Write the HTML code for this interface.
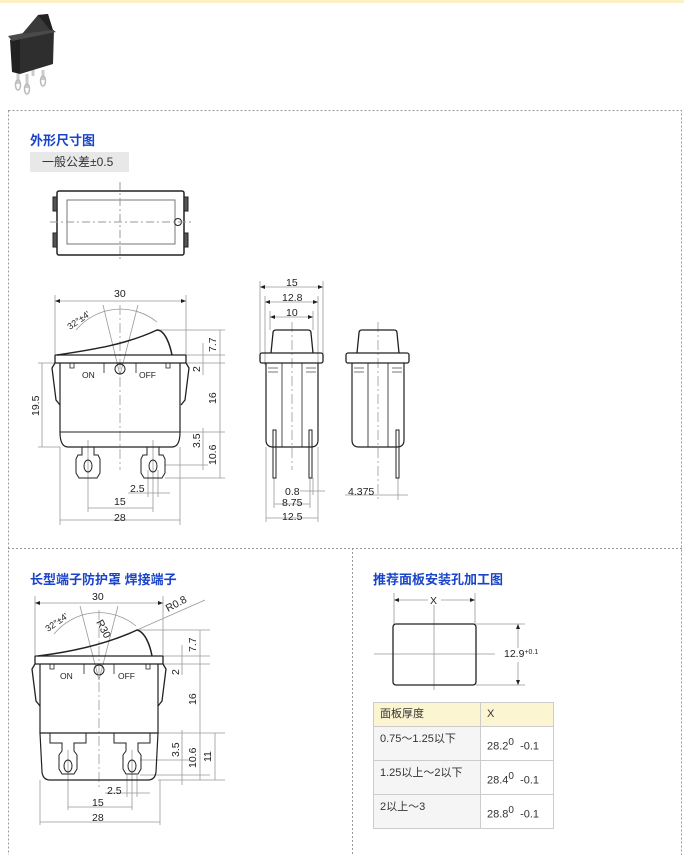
<!DOCTYPE html>
<html><head><meta charset="utf-8"><style>
html,body{margin:0;padding:0;background:#fff;}
body{width:684px;height:855px;position:relative;overflow:hidden;font-family:"Liberation Sans","Noto Sans CJK SC",sans-serif;}
svg{position:absolute;left:0;top:0;}
.h{position:absolute;color:#1a44c8;font-weight:bold;font-size:13px;font-family:"Liberation Sans","Noto Sans CJK SC",sans-serif;}
table{position:absolute;left:373px;top:702px;border-collapse:collapse;font-size:11px;color:#333;}
td{border:1px solid #ccc;padding:0 6px;vertical-align:top;}
</style></head><body>
<div style="position:absolute;left:0;top:0;width:684px;height:3px;background:#fbf1c4"></div>
<div class="h" style="left:30px;top:130px">外形尺寸图</div>
<div style="position:absolute;left:30px;top:152px;width:99px;height:20px;background:#e8e8e8;font-size:12px;color:#333;line-height:20px;text-indent:12px">一般公差±0.5</div>
<div class="h" style="left:30px;top:569px">长型端子防护罩 焊接端子</div>
<div class="h" style="left:373px;top:569px">推荐面板安装孔加工图</div>
<table>
<tr style="height:24px;background:#fbf5d2"><td style="width:94px;line-height:22px">面板厚度</td><td style="width:60px;line-height:22px">X</td></tr>
<tr style="height:34px"><td style="background:#f5f5f5;padding-top:3px">0.75～1.25以下</td><td style="padding-top:10px">28.2<sup style="font-size:10px">0</sup>&nbsp; -0.1</td></tr>
<tr style="height:34px"><td style="background:#f5f5f5;padding-top:3px">1.25以上～2以下</td><td style="padding-top:10px">28.4<sup style="font-size:10px">0</sup>&nbsp; -0.1</td></tr>
<tr style="height:34px"><td style="background:#f5f5f5;padding-top:3px">2以上～3</td><td style="padding-top:10px">28.8<sup style="font-size:10px">0</sup>&nbsp; -0.1</td></tr>
</table>
<svg width="684" height="855" viewBox="0 0 684 855" font-family="Liberation Sans, sans-serif" font-size="10.5">
<!-- photo -->
<g>
<path d="M18,72 v12 M27,74 v14 M33,70 v6 M43,70 v10" stroke="#ccc" stroke-width="3"/>
<ellipse cx="18" cy="85" rx="2.5" ry="5" fill="none" stroke="#bbb" stroke-width="1.5"/>
<ellipse cx="27" cy="89" rx="2.5" ry="5" fill="none" stroke="#bbb" stroke-width="1.5"/>
<ellipse cx="43" cy="81" rx="2.5" ry="5" fill="none" stroke="#bbb" stroke-width="1.5"/>
<polygon points="10,40 20,36 20,74 12,72" fill="#222"/>
<polygon points="20,36 54,30 53,64 20,74" fill="#2e2e2e"/>
<polygon points="8,36 50,28 56,32 12,41" fill="#4a4a4a"/>
<polygon points="22,34 38,15 48,14 52,30" fill="#3a3a3a"/>
<polygon points="38,15 48,14 53,30 50,30" fill="#222"/>
</g>
<!-- borders -->
<g stroke="#999" stroke-dasharray="2,2" fill="none" stroke-width="1">
<rect x="8.5" y="110.5" width="673" height="750"/>
<line x1="8" y1="548.5" x2="682" y2="548.5"/>
<line x1="352.5" y1="548" x2="352.5" y2="855"/>
</g>
<g fill="none" stroke="#222" stroke-width="1">
<!-- top view -->
<rect x="57" y="191" width="127" height="64" rx="2" stroke-width="1.5"/>
<rect x="67" y="200" width="108" height="44" stroke="#777"/>
<rect x="53" y="197" width="4" height="14" fill="#555"/><rect x="53" y="233" width="4" height="14" fill="#555"/>
<rect x="184" y="197" width="4" height="14" fill="#555"/><rect x="184" y="233" width="4" height="14" fill="#555"/>
<circle cx="178" cy="222" r="3.5"/>
<line x1="50" y1="222" x2="194" y2="222" stroke="#999" stroke-dasharray="8,3,2,3"/>
<line x1="120" y1="182" x2="120" y2="262" stroke="#999" stroke-dasharray="8,3,2,3"/>

<!-- front view 1 -->
<g stroke="#999" stroke-width="0.8">
<line x1="55" y1="295" x2="55" y2="355"/><line x1="186" y1="295" x2="186" y2="355"/>
<line x1="55" y1="301" x2="186" y2="301"/>
<line x1="120" y1="375" x2="103" y2="305"/><line x1="120" y1="375" x2="138" y2="305"/>
<path d="M76,330 A58,58 0 0 1 157,322"/>
<line x1="120" y1="305" x2="120" y2="470" stroke-dasharray="10,3,2,3"/>
<line x1="157" y1="330" x2="225" y2="330"/><line x1="186" y1="355" x2="225" y2="355"/>
<line x1="180" y1="363" x2="225" y2="363"/><line x1="180" y1="432" x2="225" y2="432"/>
<line x1="165" y1="465" x2="208" y2="465"/><line x1="165" y1="478" x2="225" y2="478"/>
<line x1="220" y1="330" x2="220" y2="478"/><line x1="203" y1="343" x2="203" y2="375"/><line x1="203" y1="428" x2="203" y2="470"/>
<line x1="42" y1="363" x2="42" y2="447"/><line x1="38" y1="363" x2="60" y2="363"/><line x1="38" y1="447" x2="60" y2="447"/>
<line x1="60" y1="447" x2="60" y2="525"/><line x1="180" y1="447" x2="180" y2="525"/>
<line x1="88" y1="440" x2="88" y2="512"/><line x1="153" y1="440" x2="153" y2="512"/>
<line x1="148" y1="470" x2="148" y2="497"/><line x1="158" y1="470" x2="158" y2="497"/>
<line x1="128" y1="493" x2="170" y2="493"/>
<line x1="88" y1="508" x2="153" y2="508"/><line x1="60" y1="520" x2="180" y2="520"/>
</g>
<rect x="55" y="355" width="131" height="8" rx="1" stroke-width="1.3"/>
<path d="M57,355 C90,350 125,345 157,330 C165,330 170,345 172,355" stroke-width="1.5"/>
<path d="M60,363 V432 Q60,447 68,447 H172 Q180,447 180,432 V363" stroke-width="1.2"/>
<line x1="60" y1="432" x2="180" y2="432"/>
<path d="M55,363 l-3,5 l4,32 l4,5 M186,363 l3,5 l-4,32 l-4,5" stroke-width="1.3"/>
<path d="M82,447 V455 H78 l-2,4 v14 l3,5 h18 l3,-5 v-14 l-2,-4 h-4 V447"/>
<path d="M147,447 V455 H143 l-2,4 v14 l3,5 h18 l3,-5 v-14 l-2,-4 h-4 V447"/>
<ellipse cx="88" cy="466" rx="4" ry="6"/><ellipse cx="153" cy="466" rx="4" ry="6"/>
<circle cx="120" cy="369" r="5"/>
<path d="M70,363 v5 h4 v-5 M104,363 v10 M136,363 v10 M166,363 v5 h4 v-5" stroke-width="0.8"/>

<!-- side view 1 -->
<g stroke="#999" stroke-width="0.8">
<line x1="260" y1="281" x2="260" y2="355"/><line x1="323" y1="281" x2="323" y2="355"/><line x1="260" y1="287" x2="323" y2="287"/>
<line x1="265" y1="296" x2="265" y2="365"/><line x1="318" y1="296" x2="318" y2="365"/><line x1="265" y1="302" x2="318" y2="302"/>
<line x1="270" y1="311" x2="270" y2="330"/><line x1="313" y1="311" x2="313" y2="330"/><line x1="270" y1="317" x2="313" y2="317"/>
<line x1="292" y1="322" x2="292" y2="470" stroke-dasharray="10,3,2,3"/>
<line x1="266" y1="447" x2="266" y2="522"/><line x1="318" y1="447" x2="318" y2="522"/><line x1="266" y1="518" x2="318" y2="518"/>
<line x1="274" y1="478" x2="274" y2="508"/><line x1="310" y1="478" x2="310" y2="508"/><line x1="274" y1="504" x2="310" y2="504"/>
<line x1="313" y1="478" x2="313" y2="495"/><line x1="300" y1="491" x2="325" y2="491"/>
</g>
<path d="M271,353 L273,333 Q273,330 276,330 H308 Q311,330 311,333 L313,353" stroke-width="1.3"/>
<rect x="260" y="353" width="63" height="10" rx="2" stroke-width="1.3"/>
<path d="M266,363 V440 Q266,447 273,447 H311 Q318,447 318,440 V363" stroke-width="1.2"/>
<rect x="282" y="363" width="20" height="84" stroke-width="0.8"/>
<path d="M268,368 h10 M268,372 h10 M306,368 h10 M306,372 h10" stroke="#777"/>
<rect x="273" y="430" width="3" height="48" stroke-width="1"/><rect x="309" y="430" width="3" height="48" stroke-width="1"/>

<!-- side view 2 -->
<g stroke="#999" stroke-width="0.8">
<line x1="378" y1="322" x2="378" y2="500" stroke-dasharray="10,3,2,3"/>
<line x1="398" y1="478" x2="398" y2="500"/><line x1="345" y1="495" x2="408" y2="495"/>
</g>
<path d="M357,353 L359,333 Q359,330 362,330 H394 Q397,330 397,333 L399,353" stroke-width="1.3"/>
<rect x="346" y="353" width="63" height="10" rx="2" stroke-width="1.3"/>
<path d="M352,363 V440 Q352,447 359,447 H397 Q404,447 404,440 V363" stroke-width="1.2"/>
<rect x="368" y="363" width="20" height="84" stroke-width="0.8"/>
<path d="M354,368 h10 M354,372 h10 M392,368 h10 M392,372 h10" stroke="#777"/>
<rect x="396" y="430" width="3" height="48" stroke-width="1"/>

<!-- front view 2 -->
<g stroke="#999" stroke-width="0.8">
<line x1="35" y1="596" x2="35" y2="656"/><line x1="163" y1="596" x2="163" y2="656"/><line x1="35" y1="603" x2="163" y2="603"/>
<line x1="99" y1="680" x2="80" y2="606"/><line x1="99" y1="680" x2="118" y2="606"/>
<path d="M54,634 A58,58 0 0 1 136,626"/>
<line x1="137" y1="630" x2="205" y2="600"/>
<line x1="99" y1="610" x2="99" y2="790" stroke-dasharray="10,3,2,3"/>
<line x1="137" y1="630" x2="210" y2="630"/><line x1="163" y1="656" x2="210" y2="656"/>
<line x1="158" y1="664" x2="210" y2="664"/><line x1="158" y1="733" x2="225" y2="733"/>
<line x1="140" y1="760" x2="190" y2="760"/><line x1="140" y1="775" x2="210" y2="775"/><line x1="158" y1="780" x2="225" y2="780"/>
<line x1="200" y1="630" x2="200" y2="780"/><line x1="182" y1="645" x2="182" y2="675"/><line x1="182" y1="730" x2="182" y2="785"/><line x1="215" y1="733" x2="215" y2="780"/>
<line x1="40" y1="780" x2="40" y2="825"/><line x1="160" y1="780" x2="160" y2="825"/>
<line x1="68" y1="750" x2="68" y2="810"/><line x1="132" y1="750" x2="132" y2="810"/>
<line x1="127" y1="775" x2="127" y2="797"/><line x1="137" y1="775" x2="137" y2="797"/>
<line x1="105" y1="793" x2="150" y2="793"/>
<line x1="68" y1="807" x2="132" y2="807"/><line x1="40" y1="822" x2="160" y2="822"/>
</g>
<rect x="35" y="656" width="128" height="8" rx="1" stroke-width="1.3"/>
<path d="M38,656 C70,652 105,645 137,630 C145,632 150,645 152,656" stroke-width="1.5"/>
<path d="M40,664 V733 M158,664 V733" stroke-width="1.2"/>
<path d="M40,733 H158 L156,772 Q155,780 148,780 H50 Q43,780 42,772 Z" stroke-width="1.2"/>
<path d="M35,664 l-3,5 l4,32 l4,5 M163,664 l3,5 l-4,32 l-4,5" stroke-width="1.3"/>
<path d="M50,733 v10 h12 v8 l-3,4 v14 l3,5 h12 l3,-5 v-14 l-3,-4 v-8 h12 v-10"/>
<path d="M114,733 v10 h12 v8 l-3,4 v14 l3,5 h12 l3,-5 v-14 l-3,-4 v-8 h12 v-10"/>
<ellipse cx="68" cy="766" rx="4" ry="6"/><ellipse cx="132" cy="766" rx="4" ry="6"/>
<circle cx="99" cy="670" r="5"/>
<path d="M50,664 v5 h4 v-5 M84,664 v10 M114,664 v10 M146,664 v5 h4 v-5" stroke-width="0.8"/>

<!-- panel cutout -->
<g stroke="#999" stroke-width="0.8">
<line x1="394" y1="593" x2="394" y2="625"/><line x1="475" y1="593" x2="475" y2="625"/>
<line x1="394" y1="600" x2="428" y2="600"/><line x1="441" y1="600" x2="475" y2="600"/>
<line x1="434" y1="605" x2="434" y2="690"/><line x1="374" y1="654" x2="495" y2="654"/>
<line x1="476" y1="624" x2="525" y2="624"/><line x1="476" y1="685" x2="525" y2="685"/>
<line x1="518" y1="624" x2="518" y2="648"/><line x1="518" y1="662" x2="518" y2="685"/>
</g>
<rect x="393" y="624" width="83" height="61" rx="3" stroke-width="1.3"/>
</g>
<g fill="#222">
<path d="M55,301 l5,-2 v4z M186,301 l-5,-2 v4z M260,287 l5,-2 v4z M323,287 l-5,-2 v4z M265,302 l5,-2 v4z M318,302 l-5,-2 v4z M270,317 l5,-2 v4z M313,317 l-5,-2 v4z M35,603 l5,-2 v4z M163,603 l-5,-2 v4z M394,600 l5,-2 v4z M475,600 l-5,-2 v4z M518,624 l-2,5 h4z M518,685 l-2,-5 h4z"/>
<text x="114" y="297">30</text>
<text x="286" y="286">15</text><text x="282" y="301">12.8</text><text x="286" y="316">10</text>
<text x="82" y="378" font-size="8.5">ON</text><text x="139" y="378" font-size="8.5">OFF</text>
<text x="130" y="492">2.5</text><text x="114" y="505">15</text><text x="114" y="521">28</text>
<text x="285" y="495">0.8</text><text x="282" y="506">8.75</text><text x="282" y="520">12.5</text>
<text x="348" y="495">4.375</text>
<text transform="translate(216,352) rotate(-90)">7.7</text>
<text transform="translate(200,372) rotate(-90)">2</text>
<text transform="translate(216,404) rotate(-90)">16</text>
<text transform="translate(200,448) rotate(-90)">3.5</text>
<text transform="translate(216,465) rotate(-90)">10.6</text>
<text transform="translate(39,416) rotate(-90)">19.5</text>
<text transform="translate(70,330) rotate(-35)" font-size="9">32°±4'</text>
<text x="92" y="600">30</text>
<text transform="translate(168,612) rotate(-28)">R0.8</text>
<text transform="translate(96,622) rotate(62)">R30</text>
<text transform="translate(48,632) rotate(-35)" font-size="9">32°±4'</text>
<text x="60" y="679" font-size="8.5">ON</text><text x="118" y="679" font-size="8.5">OFF</text>
<text transform="translate(196,652) rotate(-90)">7.7</text>
<text transform="translate(179,675) rotate(-90)">2</text>
<text transform="translate(196,705) rotate(-90)">16</text>
<text transform="translate(179,757) rotate(-90)">3.5</text>
<text transform="translate(196,768) rotate(-90)">10.6</text>
<text transform="translate(211,762) rotate(-90)">11</text>
<text x="107" y="794">2.5</text><text x="92" y="806">15</text><text x="92" y="821">28</text>
<text x="430" y="604">X</text>
<text x="504" y="657">12.9<tspan font-size="7" dy="-3">+0.1</tspan></text>
</g>
</svg>
</body></html>
